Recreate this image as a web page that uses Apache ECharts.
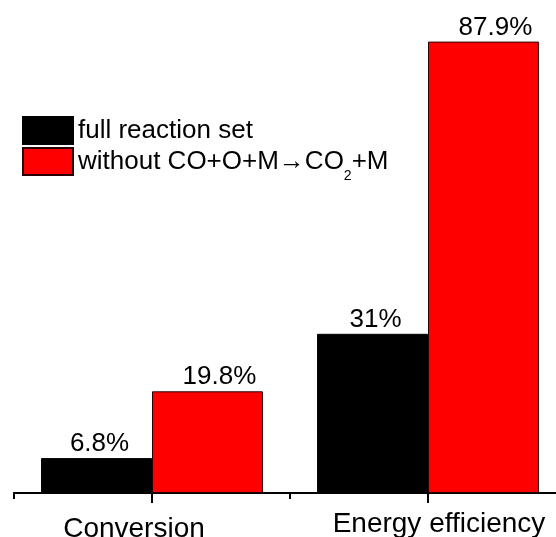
<!DOCTYPE html>
<html>
<head>
<meta charset="utf-8">
<script src="https://cdn.jsdelivr.net/npm/echarts@6/dist/echarts.min.js"></script>
<style>html,body{margin:0;padding:0;background:#fff}#c{width:556px;height:537px}</style>
</head>
<body>
<div id="c"></div>
<script>
const categories = ['Conversion', 'Energy efficiency'];
const seriesNames = ['full reaction set', 'without CO+O+M\u2192CO\u2082+M'];
const fullSet = [6.8, 31];
const withoutReaction = [19.8, 87.9];

const FONT = "'Liberation Sans', Arial, sans-serif";
const chart = echarts.init(document.getElementById('c'));
const labelStyle = {
  show: true, position: 'top', distance: 1, formatter: '{c}%',
  fontSize: 26, fontFamily: FONT, color: '#000'
};
chart.setOption({
  animation: false,
  backgroundColor: '#fff',
  grid: { left: 14, width: 552, top: 0, bottom: 44, outerBoundsMode: 'none', containLabel: false },
  legend: {
    orient: 'vertical', left: 22, top: 116, padding: 0,
    itemWidth: 50, itemHeight: 27, itemGap: 2,
    icon: 'rect',
    data: seriesNames,
    formatter: function (name) {
      return name === seriesNames[1] ? 'without CO+O+M{arr|\u2192}CO{sub|2}+M' : name;
    },
    textStyle: {
      fontSize: 26, fontFamily: FONT, color: '#000',
      rich: {
        arr: { fontSize: 26, fontFamily: FONT, color: '#000' },
        sub: { fontSize: 14, fontFamily: FONT, color: '#000', padding: [29, 0, 0, 0] }
      }
    }
  },
  xAxis: [{
    type: 'category', data: categories, position: 'bottom',
    axisLine: { show: true, lineStyle: { color: '#000', width: 2 } },
    axisTick: { show: true, alignWithLabel: true, length: 10, lineStyle: { color: '#000', width: 2 } },
    axisLabel: {
      show: true, interval: 0, showMinLabel: true, showMaxLabel: true, hideOverlap: false,
      margin: 17, fontSize: 28, fontFamily: FONT, color: '#000',
      formatter: function (v, i) { return i === 0 ? '{a|' + v + '}' : '{b|' + v + '}'; },
      rich: {
        a: { fontSize: 28, fontFamily: FONT, color: '#000', padding: [5, 36, 0, 0] },
        b: { fontSize: 28, fontFamily: FONT, color: '#000', padding: [0, 0, 0, 22] }
      }
    },
    splitLine: { show: false }
  }, {
    type: 'category', data: categories, position: 'bottom',
    axisLine: { show: true, lineStyle: { color: '#000', width: 2 } },
    axisTick: { show: true, interval: 0, length: 6, lineStyle: { color: '#000', width: 2 } },
    axisLabel: { show: false },
    splitLine: { show: false }
  }],
  yAxis: { type: 'value', min: 0, max: 96, show: false, splitLine: { show: false } },
  series: [{
    name: seriesNames[0], type: 'bar', data: fullSet,
    barGap: '0%', barCategoryGap: '19.6%',
    itemStyle: { color: '#000', borderColor: '#000', borderWidth: 1 },
    label: Object.assign({}, labelStyle, { offset: [3, 0] })
  }, {
    name: seriesNames[1], type: 'bar', data: withoutReaction,
    barGap: '0%', barCategoryGap: '19.6%',
    itemStyle: { color: '#ff0000', borderColor: '#2a0000', borderWidth: 1 },
    label: Object.assign({}, labelStyle, { offset: [12, 0] })
  }]
});
</script>
</body>
</html>
